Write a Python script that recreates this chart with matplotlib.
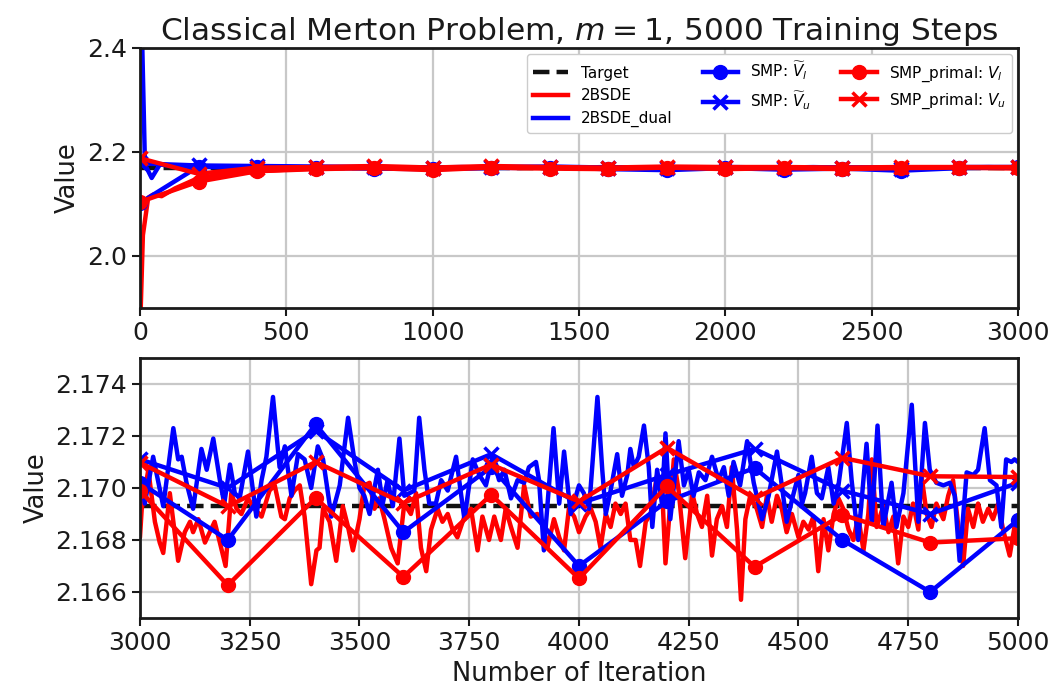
import numpy as np
import matplotlib
matplotlib.use("Agg")
import matplotlib.pyplot as plt

### data ###
target = 2.1693

# SMP bounds, evaluated every 200 iterations
smp_iter = list(range(0, 5001, 200))
smp_dual_lo = [2.102, 2.172, 2.172, 2.170, 2.168, 2.167, 2.169, 2.170, 2.167, 2.165, 2.169, 2.166, 2.168, 2.164, 2.169,
               2.1702, 2.1680, 2.17245, 2.1683, 2.1708, 2.1670, 2.16948, 2.17077, 2.1680, 2.1660, 2.16877]
smp_dual_up = [2.178, 2.174, 2.173, 2.172, 2.171, 2.170, 2.171, 2.172, 2.170, 2.169, 2.171, 2.170, 2.170, 2.168, 2.171,
               2.1711, 2.1700, 2.1722, 2.1699, 2.1713, 2.1694, 2.1705, 2.1715, 2.1699, 2.1690, 2.1702]
smp_primal_lo = [2.104, 2.143, 2.163, 2.167, 2.169, 2.165, 2.170, 2.168, 2.167, 2.170, 2.167, 2.169, 2.167, 2.169, 2.170,
                 2.1699, 2.16626, 2.16961, 2.16658, 2.16974, 2.16652, 2.17006, 2.16697, 2.16897, 2.1679, 2.16807]
smp_primal_up = [2.188, 2.158, 2.170, 2.171, 2.173, 2.170, 2.173, 2.171, 2.170, 2.172, 2.171, 2.171, 2.170, 2.171, 2.171,
                 2.17097, 2.16929, 2.1710, 2.16942, 2.1709, 2.16948, 2.17155, 2.16961, 2.17116, 2.17045, 2.17042]

# 2BSDE (primal) training curve
bsde_iter = [0, 10, 28, 45, 74, 120, 200, 300, 400, 500, 600, 700,
             800, 900, 1000, 1100, 1200, 1300, 1400, 1500, 1600, 1700, 1800, 1900,
             2000, 2100, 2200, 2300, 2400, 2500, 2600, 2700, 2800, 2900,
             3000, 3004, 3019, 3034, 3045, 3053, 3068, 3087, 3102, 3114, 3121, 3133, 3148, 3159, 3170, 3182,
             3195, 3208, 3220, 3231, 3246, 3261, 3277, 3295, 3307, 3322, 3330, 3341, 3352, 3364, 3375, 3390,
             3402, 3409, 3417, 3432, 3447, 3462, 3474, 3485, 3500, 3511, 3523, 3534, 3545, 3557, 3572, 3587,
             3602, 3617, 3629, 3640, 3652, 3663, 3678, 3689, 3701, 3712, 3723, 3739, 3754, 3769, 3780, 3795,
             3807, 3822, 3833, 3845, 3860, 3875, 3890, 3905, 3917, 3928, 3943, 3955, 3966, 3977, 3989, 4000,
             4015, 4027, 4038, 4049, 4061, 4072, 4083, 4095, 4106, 4117, 4129, 4139, 4152, 4163, 4178, 4189,
             4197, 4208, 4216, 4227, 4242, 4258, 4269, 4280, 4292, 4303, 4314, 4326, 4337, 4348, 4360, 4369,
             4379, 4390, 4405, 4417, 4428, 4439, 4451, 4462, 4473, 4485, 4500, 4511, 4523, 4534, 4545, 4557,
             4568, 4580, 4591, 4602, 4614, 4625, 4636, 4648, 4659, 4667, 4678, 4693, 4705, 4716, 4727, 4739,
             4750, 4761, 4773, 4780, 4792, 4803, 4814, 4830, 4841, 4852, 4867, 4875, 4886, 4898, 4909, 4920,
             4932, 4943, 4955, 4966, 4981, 4992, 5000]
bsde_val = [1.85, 2.04, 2.112, 2.118, 2.115, 2.130, 2.150, 2.158, 2.163, 2.166, 2.168, 2.169,
            2.1695, 2.1688, 2.1699, 2.1692, 2.1701, 2.1690, 2.1697, 2.1686, 2.1700, 2.1693, 2.1689, 2.1698,
            2.1691, 2.1702, 2.1687, 2.1696, 2.1690, 2.1699, 2.1688, 2.1694, 2.1697, 2.1690,
            2.1681, 2.1692, 2.1707, 2.1687, 2.1679, 2.1675, 2.1698, 2.1672, 2.1683, 2.1687, 2.1683, 2.1688, 2.1679, 2.1683, 2.1687, 2.1679,
            2.1670, 2.1698, 2.1692, 2.1690, 2.1696, 2.1692, 2.1689, 2.1699, 2.1701, 2.1689, 2.1688, 2.1696, 2.1699, 2.1701, 2.1689, 2.1663,
            2.1676, 2.1677, 2.1692, 2.1687, 2.1672, 2.1693, 2.1685, 2.1676, 2.1688, 2.1701, 2.1702, 2.1692, 2.1696, 2.1688, 2.1677, 2.1671,
            2.1694, 2.1690, 2.1698, 2.1677, 2.1668, 2.1684, 2.1692, 2.1687, 2.1690, 2.1684, 2.1681, 2.1689, 2.1692, 2.1676, 2.1689, 2.1680,
            2.1689, 2.1680, 2.1692, 2.1685, 2.1677, 2.1701, 2.1689, 2.1690, 2.1687, 2.1677, 2.1688, 2.1681, 2.1676, 2.1692, 2.1689, 2.1683,
            2.1689, 2.1692, 2.1687, 2.1677, 2.1690, 2.1685, 2.1694, 2.1690, 2.1694, 2.1680, 2.1680, 2.1670, 2.1687, 2.1690, 2.1705, 2.1701,
            2.1671, 2.1694, 2.1711, 2.1699, 2.1673, 2.1698, 2.1690, 2.1685, 2.1697, 2.1674, 2.1688, 2.1693, 2.1685, 2.1708, 2.1684, 2.1657,
            2.1688, 2.1697, 2.1692, 2.1685, 2.1697, 2.1687, 2.1697, 2.1692, 2.1683, 2.1690, 2.1681, 2.1687, 2.1684, 2.1689, 2.1668, 2.1688,
            2.1676, 2.1690, 2.1696, 2.1692, 2.1684, 2.1680, 2.1689, 2.1676, 2.1690, 2.1711, 2.1685, 2.1693, 2.1683, 2.1689, 2.1671, 2.1689,
            2.1685, 2.1694, 2.1684, 2.1705, 2.1690, 2.1685, 2.1694, 2.1688, 2.1697, 2.1703, 2.1681, 2.1670, 2.1692, 2.1685, 2.1694, 2.1687,
            2.1692, 2.1688, 2.1694, 2.1684, 2.1674, 2.1685, 2.1680]

# 2BSDE_dual training curve
dual_iter = [0, 17, 40, 68, 120, 200, 300,
             400, 500, 600, 700, 800, 900, 1000, 1100, 1200, 1300, 1400, 1500, 1600,
             1700, 1800, 1900, 2000, 2100, 2200, 2300, 2400, 2500, 2600, 2700, 2800, 2900,
             3000, 3004, 3011, 3030, 3053, 3076, 3087, 3095, 3106, 3121, 3140, 3152, 3167, 3182, 3192, 3205,
             3216, 3227, 3246, 3265, 3277, 3288, 3303, 3318, 3330, 3345, 3360, 3375, 3390, 3405, 3417, 3436,
             3455, 3474, 3489, 3500, 3511, 3523, 3542, 3553, 3564, 3576, 3591, 3602, 3614, 3625, 3636, 3648,
             3659, 3674, 3686, 3701, 3720, 3739, 3758, 3773, 3788, 3803, 3818, 3830, 3845, 3860, 3875, 3886,
             3902, 3909, 3920, 3942, 3955, 3966, 3981, 4000, 4011, 4023, 4042, 4053, 4061, 4072, 4087, 4098,
             4110, 4117, 4125, 4136, 4148, 4159, 4167, 4178, 4189, 4197, 4208, 4227, 4239, 4250, 4261, 4273,
             4288, 4303, 4318, 4330, 4341, 4352, 4367, 4383, 4398, 4417, 4432, 4451, 4462, 4473, 4489, 4500,
             4508, 4515, 4530, 4542, 4553, 4568, 4580, 4591, 4610, 4621, 4636, 4655, 4667, 4680, 4693, 4712,
             4723, 4739, 4758, 4773, 4788, 4799, 4814, 4830, 4845, 4856, 4867, 4883, 4898, 4909, 4924, 4936,
             4951, 4962, 4973, 4985, 4992, 5000]
dual_val = [2.60, 2.176, 2.150, 2.176, 2.172, 2.1712, 2.1705,
            2.1703, 2.1708, 2.1698, 2.1704, 2.1711, 2.1697, 2.1702, 2.1709, 2.1700, 2.1695, 2.1706, 2.1701, 2.1710,
            2.1698, 2.1703, 2.1707, 2.1696, 2.1705, 2.1700, 2.1709, 2.1699, 2.1704, 2.1697, 2.1706, 2.1702, 2.1708,
            2.1700, 2.1703, 2.1694, 2.1712, 2.1693, 2.1723, 2.1711, 2.1712, 2.1702, 2.1692, 2.1715, 2.1707, 2.1719, 2.1703, 2.1694, 2.1709,
            2.1698, 2.1696, 2.1714, 2.1689, 2.1703, 2.1712, 2.1735, 2.1708, 2.1716, 2.1697, 2.1713, 2.1711, 2.1700, 2.1716, 2.1711, 2.1689,
            2.1701, 2.1727, 2.1710, 2.1700, 2.1697, 2.1690, 2.1707, 2.1694, 2.1703, 2.1693, 2.1719, 2.1697, 2.1698, 2.1699, 2.1727, 2.1707,
            2.1694, 2.1694, 2.1703, 2.1699, 2.1712, 2.1688, 2.1711, 2.1705, 2.1701, 2.1712, 2.1703, 2.1707, 2.1696, 2.1703, 2.1702, 2.1708,
            2.1710, 2.1703, 2.1676, 2.1723, 2.1694, 2.1714, 2.1690, 2.1701, 2.1698, 2.1692, 2.1735, 2.1707, 2.1690, 2.1699, 2.1713, 2.1697,
            2.1705, 2.1715, 2.1708, 2.1712, 2.1724, 2.1708, 2.1685, 2.1707, 2.1694, 2.1721, 2.1688, 2.1718, 2.1701, 2.1707, 2.1697, 2.1706,
            2.1703, 2.1712, 2.1703, 2.1708, 2.1697, 2.1710, 2.1701, 2.1718, 2.1702, 2.1688, 2.1697, 2.1714, 2.1701, 2.1687, 2.1698, 2.1705,
            2.1694, 2.1698, 2.1712, 2.1698, 2.1696, 2.1708, 2.1694, 2.1701, 2.1725, 2.1703, 2.1680, 2.1717, 2.1687, 2.1724, 2.1685, 2.1702,
            2.1685, 2.1698, 2.1732, 2.1687, 2.1725, 2.1707, 2.1702, 2.1701, 2.1702, 2.1697, 2.1672, 2.1706, 2.1705, 2.1707, 2.1723, 2.1703,
            2.1701, 2.1685, 2.1711, 2.1710, 2.1711, 2.1710]

### plotting ###
lw = 3.2
ms = 10
fig = plt.figure(figsize=(10.58, 6.99), dpi=100)
ax1 = fig.add_axes([0.1323, 0.5594, 0.8299, 0.372])
ax2 = fig.add_axes([0.1323, 0.1159, 0.8299, 0.372])

for ax in (ax1, ax2):
    ax.axhline(target, color="#111111", ls="--", lw=lw, label="Target")
    ax.plot(bsde_iter, bsde_val, color="red", lw=lw, label="2BSDE")
    ax.plot(dual_iter, dual_val, color="blue", lw=lw, label="2BSDE_dual")
    ax.plot(smp_iter, smp_dual_lo, color="blue", lw=lw, marker="o", ms=ms, label=r"SMP: $\widetilde{V}_l$")
    ax.plot(smp_iter, smp_dual_up, color="blue", lw=lw, marker="x", ms=ms, mew=2.5, label=r"SMP: $\widetilde{V}_u$")
    ax.plot(smp_iter, smp_primal_lo, color="red", lw=lw, marker="o", ms=ms, label=r"SMP_primal: $V_l$")
    ax.plot(smp_iter, smp_primal_up, color="red", lw=lw, marker="x", ms=ms, mew=2.5, label=r"SMP_primal: $V_u$")
    ax.grid(True, color="#c8c8c8", lw=1.6)
    ax.set_axisbelow(True)
    for s in ax.spines.values():
        s.set_linewidth(2)
        s.set_color("#1a1a1a")
    ax.tick_params(labelsize=18, width=1.5, length=6, colors="#1a1a1a")
    ax.set_ylabel("Value", fontsize=18.5, color="#1a1a1a")

ax1.set_xlim(0, 3000)
ax1.set_ylim(1.9, 2.4)
ax1.set_xticks(np.arange(0, 3001, 500))
ax1.set_yticks([2.0, 2.2, 2.4])
ax1.set_title(r"Classical Merton Problem, $m = 1$, 5000 Training Steps", fontsize=22.5, pad=6,
              color="#1a1a1a")
ax1.legend(loc="upper right", ncol=3, fontsize=11, framealpha=1, edgecolor="#cccccc",
           handlelength=2.3, borderaxespad=0.4)

ax2.set_xlim(3000, 5000)
ax2.set_ylim(2.165, 2.175)
ax2.set_xticks(np.arange(3000, 5001, 250))
ax2.set_yticks(np.arange(2.166, 2.1741, 0.002))
ax2.yaxis.set_major_formatter(matplotlib.ticker.FormatStrFormatter("%.3f"))
ax2.set_xlabel("Number of Iteration", fontsize=18.5, color="#1a1a1a")

fig.savefig("out.png", dpi=100)
